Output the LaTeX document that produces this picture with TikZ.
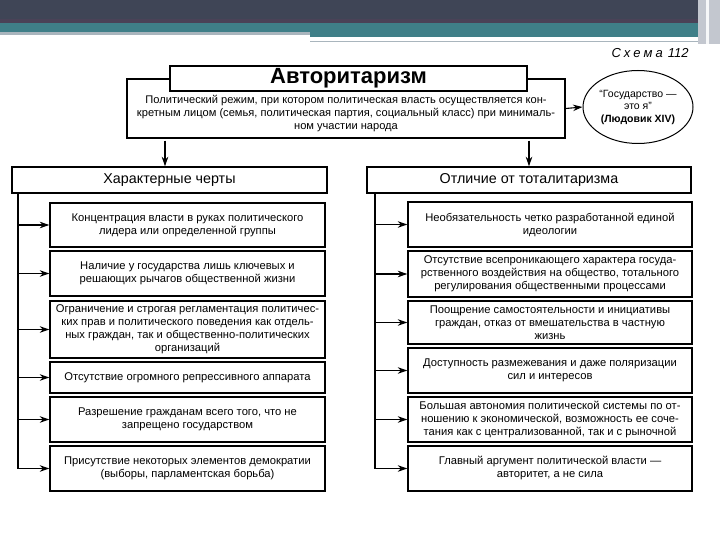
\documentclass[tikz,border=0pt]{standalone}
\usepackage{fontspec}
\setmainfont{Liberation Sans}
\usetikzlibrary{arrows.meta,shapes.geometric}

\definecolor{barDark}{HTML}{3F4556}
\definecolor{barPlum}{HTML}{4A4257}
\definecolor{barTeal}{HTML}{3F7F88}
\definecolor{barGray}{HTML}{A9B5BD}
\definecolor{barEdge}{HTML}{C3C7CF}

\tikzset{
  box/.style={draw, line width=1.4pt, fill=white, align=center,
    font=\fontsize{11.2}{13}\selectfont, inner sep=2pt},
  headbox/.style={box, minimum height=26pt,
    font=\fontsize{14.3}{16}\selectfont},
  lbox/.style={box, minimum width=275pt},
  rbox/.style={box, minimum width=284pt},
}

\begin{document}
\begin{tikzpicture}[x=1pt,y=-1pt,line width=1.1pt,
    >={Stealth[length=9.5pt,width=6.5pt]}]

      \useasboundingbox (0,0) rectangle (720,540);

      % slide header
      \fill[barDark] (0,0) rectangle (720,20);
      \fill[barPlum] (0,19) rectangle (720,23);
      \fill[barTeal] (0,23) rectangle (720,32);
      \fill[barGray] (0,32) rectangle (310,35);
      \fill[barTeal] (310,32) rectangle (698,37);
      \fill[barGray] (310,41) rectangle (705,42.5);
      \fill[barEdge] (698,0) rectangle (720,44);
      \fill[white!85!barEdge] (706,0) rectangle (709,44);

      \node[font=\itshape\fontsize{13}{15}\selectfont] (scheme) at (650,53)
        {С\kern3pt х\kern3pt е\kern3pt м\kern3pt а\kern5pt 112};

      % definition
      \node[box, minimum width=438pt, minimum height=59pt] (def) at (346,108.5) {};
      \node[align=center, font=\fontsize{11.1}{13}\selectfont] (deftext) at (346,114)
        {Политический режим, при котором политическая власть осуществляется кон-\\
         кретным лицом (семья, политическая партия, социальный класс) при минималь-\\
         ном участии народа};
      \node[box, minimum width=357pt, minimum height=25pt,
        font=\bfseries\fontsize{22}{24}\selectfont] (title) at (348.5,78.5) {Авторитаризм};

      \node[ellipse, draw, line width=1pt, minimum width=110pt, minimum height=73pt,
        inner sep=0pt, align=center, font=\fontsize{10.5}{12.5}\selectfont] (quote) at (638,107)
        {“Государство —\\это я”\\\textbf{(Людовик XIV)}};

      % two columns
      \node[headbox, minimum width=315pt] (lh) at (169.5,180) {Характерные черты};
      \node[headbox, minimum width=324pt] (rh) at (529,180) {Отличие от тоталитаризма};

      \begin{scope}[every node/.append style={lbox}]
        \node[minimum height=44pt] (l1) at (187.5,225)
          {Концентрация власти в руках политического\\лидера или определенной группы};
        \node[minimum height=45pt] (l2) at (187.5,273.5)
          {Наличие у государства лишь ключевых и\\решающих рычагов общественной жизни};
        \node[minimum height=57pt] (l3) at (187.5,329.5)
          {Ограничение и строгая регламентация политичес-\\ких прав и политического поведения как отдель-\\ных граждан, так и общественно-политических\\организаций};
        \node[minimum height=31pt] (l4) at (187.5,377.5)
          {Отсутствие огромного репрессивного аппарата};
        \node[minimum height=45pt] (l5) at (187.5,419.5)
          {Разрешение гражданам всего того, что не\\запрещено государством};
        \node[minimum height=45pt] (l6) at (187.5,468.5)
          {Присутствие некоторых элементов демократии\\(выборы, парламентская борьба)};
      \end{scope}

      \begin{scope}[every node/.append style={rbox}]
        \node[minimum height=45pt] (r1) at (550,224.5)
          {Необязательность четко разработанной единой\\идеологии};
        \node[minimum height=46pt] (r2) at (550,274)
          {Отсутствие всепроникающего характера госуда-\\рственного воздействия на общество, тотального\\регулирования общественными процессами};
        \node[minimum height=43pt] (r3) at (550,322.5)
          {Поощрение самостоятельности и инициативы\\граждан, отказ от вмешательства в частную\\жизнь};
        \node[minimum height=45pt] (r4) at (550,370.5)
          {Доступность размежевания и даже поляризации\\сил и интересов};
        \node[minimum height=45pt] (r5) at (550,419.5)
          {Большая автономия политической системы по от-\\ношению к экономической, возможность ее соче-\\тания как с централизованной, так и с рыночной};
        \node[minimum height=45pt] (r6) at (550,468.5)
          {Главный аргумент политической власти —\\авторитет, а не сила};
      \end{scope}

      \coordinate (lt) at (18,193);
      \coordinate (rt) at (375,193);

      \begin{scope}[every edge/.style={draw,->}]
        \path (def.east) edge (quote.west);
        \path ([yshift=-2pt]def.south -| 165,0) edge (lh.north -| 165,0);
        \path ([yshift=-2pt]def.south -| rh.north) edge (rh.north);
        \path (lt) edge[to path={|- (\tikztotarget)}] (l6.west);
        \path (rt) edge[to path={|- (\tikztotarget)}] (r6.west);
        \foreach \i in {1,...,5} {
          \path (l\i.west -| lt) edge (l\i.west);
          \path (r\i.west -| rt) edge (r\i.west);
        }
      \end{scope}

    \end{tikzpicture}
\end{document}
